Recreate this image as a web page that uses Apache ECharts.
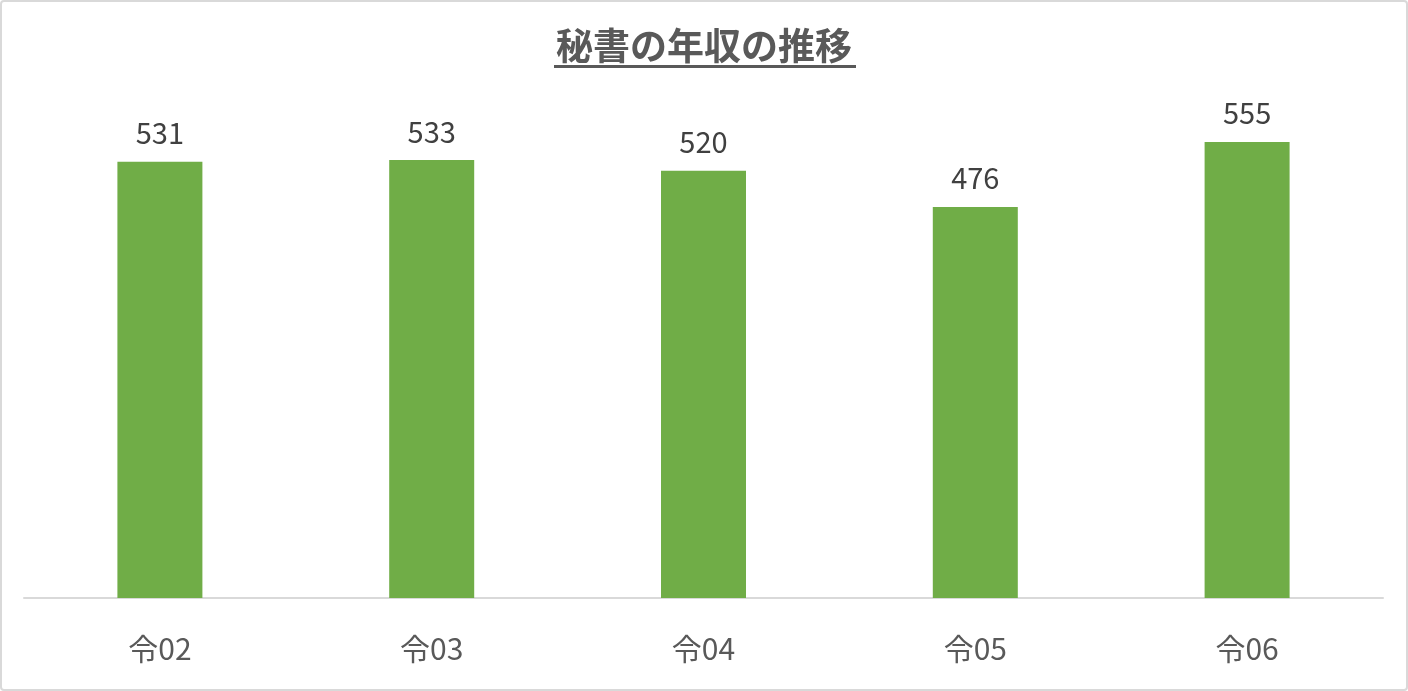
<!DOCTYPE html>
<html><head><meta charset="utf-8">
<script src="https://cdn.jsdelivr.net/npm/echarts@6/dist/echarts.min.js"></script>
<style>html,body{margin:0;padding:0;background:#fff}#c{width:1408px;height:691px;box-sizing:border-box;border:2px solid #d9d9d9;border-radius:4px}</style>
</head><body><div id="c"></div>
<script>
const titleText = '秘書の年収の推移';
const categories = ['令02','令03','令04','令05','令06'];
const values = [531, 533, 520, 476, 555];
const chart = echarts.init(document.getElementById('c'));
const font = '"Noto Sans CJK JP", "Noto Sans", sans-serif';
chart.setOption({
  animation: false,
  title: {
    text: titleText, left: 'center', top: 20,
    textStyle: { fontFamily: font, fontSize: 37, fontWeight: 'bold', color: '#595959' }
  },
  graphic: [{
    type: 'rect', left: 552, top: 63, shape: { width: 302, height: 3 },
    style: { fill: '#595959' }
  }],
  grid: { left: 22, right: 23, top: 103, bottom: 91 },
  xAxis: {
    type: 'category', data: categories,
    axisLine: { lineStyle: { color: '#d9d9d9', width: 2 } },
    axisTick: { show: false },
    axisLabel: { fontFamily: font, fontSize: 30, color: '#595959', margin: 36 }
  },
  yAxis: {
    type: 'value', min: 0, max: 600, show: false,
    splitLine: { show: false }
  },
  series: [{
    type: 'bar', data: values, barWidth: 85,
    itemStyle: { color: '#70AD47' },
    label: { show: true, position: 'top', distance: 14, fontFamily: font, fontSize: 29, color: '#404040' }
  }]
});
</script></body></html>
